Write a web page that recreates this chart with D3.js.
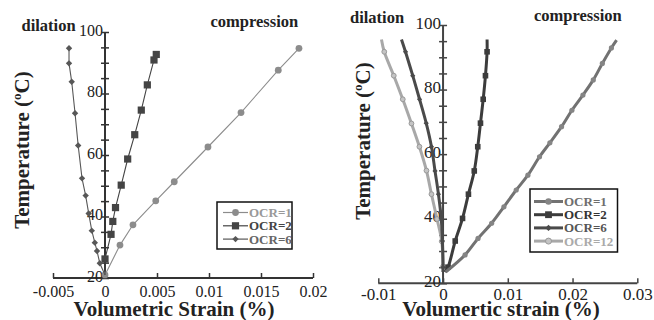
<!DOCTYPE html>
<html><head><meta charset="utf-8">
<script src="https://cdn.jsdelivr.net/npm/d3@7"></script>
<style>
html,body{margin:0;padding:0;background:#fff;}
svg{display:block;}
</style></head>
<body><svg id="chart" width="654" height="320"></svg>
<script>
// ---------- DATA ----------
// Left panel
const leftXTicks = [-0.005, 0, 0.005, 0.01, 0.015, 0.02];
const leftXTickLabels = ["-0.005", "0", "0.005", "0.01", "0.015", "0.02"];
const leftYTicks = [20, 25, 30, 35, 40, 45, 50, 55, 60, 65, 70, 75, 80, 85, 90, 95, 100];
const leftYTickLabels = ["20", "", "", "", "40", "", "", "", "60", "", "", "", "80", "", "", "", "100"];

const leftOCR1Strain = [0, 0.00144, 0.00269, 0.00488, 0.00666, 0.0099, 0.01308, 0.01666, 0.01865];
const leftOCR1Temp   = [21, 30.7, 37.3, 45.1, 51.3, 62.6, 73.8, 87.6, 94.7];
const leftOCR2Strain = [0, 0, 0.00058, 0.00075, 0.00101, 0.00156, 0.00218, 0.00286, 0.00349, 0.00407, 0.00471, 0.00493];
const leftOCR2Temp   = [21, 26.2, 34.2, 38.4, 42.9, 50.2, 58.7, 66.6, 74.6, 82.8, 90.9, 92.7];
const leftOCR6Strain = [0, -0.0005, -0.00077, -0.00098, -0.00127, -0.00157, -0.00186, -0.00221, -0.00258, -0.00288, -0.0032, -0.00346, -0.00346];
const leftOCR6Temp   = [21, 24.8, 28.8, 31.5, 35.4, 41.0, 46.8, 52.4, 63.1, 73.6, 83.8, 89.8, 94.7];
const leftSeriesNames = ["OCR=1", "OCR=2", "OCR=6"];

// Right panel
const rightXTicks = [-0.01, 0, 0.01, 0.02, 0.03];
const rightXTickLabels = ["-0.01", "0", "0.01", "0.02", "0.03"];
const rightYTicks = [20, 25, 30, 35, 40, 45, 50, 55, 60, 65, 70, 75, 80, 85, 90, 95, 100];
const rightYTickLabels = ["20", "", "", "", "40", "", "", "", "60", "", "", "", "80", "", "", "", "100"];

const rightOCR1Strain = [0.0004, 0.0034, 0.0054, 0.0075, 0.0094, 0.0113, 0.0131, 0.0149, 0.0165, 0.0183, 0.0199, 0.0216, 0.0232, 0.0246, 0.0260, 0.0268];
const rightOCR1Temp   = [23.5, 28.8, 33.9, 38.6, 43.7, 48.9, 53.5, 59.2, 63.5, 68.5, 73.6, 78.3, 83.0, 88.1, 92.9, 95.3];
const rightOCR2Strain = [0.0003, 0.00077, 0.00188, 0.00301, 0.00392, 0.00482, 0.00536, 0.00578, 0.0062, 0.00655, 0.0068, 0.0068];
const rightOCR2Temp   = [23.5, 25.0, 33.1, 40.1, 47.6, 54.8, 62.3, 69.6, 77.0, 84.3, 91.7, 95.5];
const rightOCR6Strain = [0, 0, -0.0001, -0.00028, -0.00071, -0.00124, -0.00179, -0.0026, -0.00363, -0.00468, -0.0058, -0.00642];
const rightOCR6Temp   = [23.5, 25.0, 33.1, 40.1, 47.6, 54.8, 62.3, 69.6, 77.0, 84.3, 91.7, 95.5];
const rightOCR12Strain = [0, 0, -0.0002, -0.00093, -0.00179, -0.00256, -0.00365, -0.00488, -0.00622, -0.00761, -0.00908, -0.00951];
const rightOCR12Temp   = [23.5, 25.2, 33.0, 39.9, 47.6, 54.9, 62.3, 69.5, 77.0, 84.3, 91.7, 95.5];
const rightSeriesNames = ["OCR=1", "OCR=2", "OCR=6", "OCR=12"];

// ---------- DRAWING ----------
const FONT = '"Liberation Serif"';
const svg = d3.select("#chart");
const zip = (xs, ys) => xs.map((x, i) => [x, ys[i]]);

function marker(g, shape, cx, cy, size, fill, stroke) {
  if (shape === "circle") {
    g.append("circle").attr("cx", cx).attr("cy", cy).attr("r", size)
      .attr("fill", fill).attr("stroke", stroke || "none").attr("stroke-width", 1);
  } else if (shape === "square") {
    g.append("rect").attr("x", cx - size).attr("y", cy - size).attr("width", size * 2).attr("height", size * 2)
      .attr("fill", fill);
  } else if (shape === "diamond") {
    g.append("path").attr("d", `M${cx},${cy - size}L${cx + size},${cy}L${cx},${cy + size}L${cx - size},${cy}Z`)
      .attr("fill", fill);
  }
}

function drawAxes(g, x, y, xTicks, xLabels, yTicks, yLabels, fs, axisColor, xLabelDy) {
  const [x0, x1] = x.range();
  const [yb, yt] = y.range();
  const yAx = x(0);
  g.append("line").attr("x1", x0).attr("x2", x1).attr("y1", yb).attr("y2", yb)
    .attr("stroke", axisColor).attr("stroke-width", 2);
  g.append("line").attr("x1", yAx).attr("x2", yAx).attr("y1", yb).attr("y2", yt)
    .attr("stroke", axisColor).attr("stroke-width", 2);
  const xa = d3.axisBottom(x).tickValues(xTicks).tickFormat((d, i) => xLabels[i]).tickSize(0).tickPadding(0);
  const xg = g.append("g").attr("transform", `translate(0,${yb})`).call(xa);
  xg.select(".domain").remove();
  xg.selectAll(".tick").append("line").attr("y1", -5).attr("y2", 0).attr("stroke", axisColor).attr("stroke-width", 1.5);
  xg.selectAll(".tick text").attr("font-size", fs).attr("fill", "#222")
    .style("font-family", FONT).attr("dy", null).attr("y", xLabelDy);
  const ya = d3.axisLeft(y).tickValues(yTicks).tickFormat((d, i) => yLabels[i]).tickSize(0).tickPadding(0);
  const yg = g.append("g").attr("transform", `translate(${yAx},0)`).call(ya);
  yg.select(".domain").remove();
  yg.selectAll(".tick").append("line").attr("x1", -4).attr("x2", 4).attr("stroke", axisColor).attr("stroke-width", 1.5);
  yg.selectAll(".tick text").attr("font-size", fs).attr("fill", "#222")
    .style("font-family", FONT).attr("x", -2).attr("dy", null).attr("y", 3);
}

function txt(g, x, y, s, size, bold, anchor) {
  return g.append("text").attr("x", x).attr("y", y).attr("font-size", size)
    .attr("font-weight", bold ? "bold" : "normal").attr("fill", "#222")
    .attr("text-anchor", anchor || "start").style("font-family", FONT).text(s);
}

function yTitle(xPos, yCenter) {
  const t = svg.append("text").attr("transform", `translate(${xPos},${yCenter}) rotate(-90)`)
    .attr("text-anchor", "middle").attr("font-size", 21).attr("font-weight", "bold").attr("fill", "#222")
    .style("font-family", FONT);
  t.append("tspan").text("Temperature (");
  t.append("tspan").text("o").attr("font-size", 13).attr("dy", -8);
  t.append("tspan").text("C)").attr("dy", 8);
}

// ===== LEFT PANEL =====
{
  const x = d3.scaleLinear([-0.005, 0.02], [53, 313]);
  const y = d3.scaleLinear([20, 100], [278, 32]);
  const g = svg.append("g");
  drawAxes(g, x, y, leftXTicks, leftXTickLabels, leftYTicks, leftYTickLabels, 16, "#333", 18.5);

  const series = [
    { name: leftSeriesNames[0], pts: zip(leftOCR1Strain, leftOCR1Temp), color: "#8c8c8c", shape: "circle", size: 3.4, start: 0 },
    { name: leftSeriesNames[1], pts: zip(leftOCR2Strain, leftOCR2Temp), color: "#444444", shape: "square", size: 3.6, start: 1 },
    { name: leftSeriesNames[2], pts: zip(leftOCR6Strain, leftOCR6Temp), color: "#575757", shape: "diamond", size: 3.2, start: 1 }
  ];
  const line = d3.line().x(d => x(d[0])).y(d => y(d[1]));
  series.forEach(s => {
    g.append("path").attr("d", line(s.pts)).attr("fill", "none").attr("stroke", s.color).attr("stroke-width", 1.1);
    s.pts.forEach((p, i) => { if (i >= s.start) marker(g, s.shape, x(p[0]), y(p[1]), s.size, s.color); });
  });

  txt(g, 21.5, 30.5, "dilation", 16.5, true);
  txt(g, 210.5, 26.5, "compression", 16.5, true);
  txt(g, 174, 316, "Volumetric Strain (%)", 21, true, "middle");

  const lg = g.append("g");
  lg.append("rect").attr("x", 217).attr("y", 202).attr("width", 75).attr("height", 47)
    .attr("fill", "#fff").attr("stroke", "#111").attr("stroke-width", 1.5);
  const textCols = ["#999999", "#444444", "#666666"];
  series.forEach((s, i) => {
    const ly = 212.5 + i * 13.3;
    lg.append("line").attr("x1", 223).attr("x2", 248).attr("y1", ly).attr("y2", ly).attr("stroke", s.color).attr("stroke-width", 1.2);
    marker(lg, s.shape, 235.5, ly, s.size, s.color);
    txt(lg, 249, ly + 4.5, s.name, 13, true).attr("fill", textCols[i]);
  });
}
yTitle(29, 150);

// ===== RIGHT PANEL =====
{
  const x = d3.scaleLinear([-0.01, 0.03], [378.3, 637.3]);
  const y = d3.scaleLinear([20, 100], [283.3, 25]);
  const g = svg.append("g");
  drawAxes(g, x, y, rightXTicks, rightXTickLabels, rightYTicks, rightYTickLabels, 17, "#444", 17);

  const series = [
    { name: rightSeriesNames[0], pts: zip(rightOCR1Strain, rightOCR1Temp), color: "#727272", mfill: "#858585", mstroke: null, shape: "circle", size: 2.6 },
    { name: rightSeriesNames[1], pts: zip(rightOCR2Strain, rightOCR2Temp), color: "#3c3c3c", mfill: "#3c3c3c", mstroke: null, shape: "square", size: 2.8 },
    { name: rightSeriesNames[2], pts: zip(rightOCR6Strain, rightOCR6Temp), color: "#4a4a4a", mfill: "#4a4a4a", mstroke: null, shape: "diamond", size: 2.6 },
    { name: rightSeriesNames[3], pts: zip(rightOCR12Strain, rightOCR12Temp), color: "#a8a8a8", mfill: "#c4c4c4", mstroke: "#999999", shape: "circle", size: 2.4 }
  ];
  const line = d3.line().x(d => x(d[0])).y(d => y(d[1])).curve(d3.curveCatmullRom);
  series.slice().reverse().forEach(s => {
    g.append("path").attr("d", line(s.pts)).attr("fill", "none").attr("stroke", s.color).attr("stroke-width", 3);
    s.pts.forEach((p, i) => { if (i > 0 && i < s.pts.length - 1) marker(g, s.shape, x(p[0]), y(p[1]), s.size, s.mfill, s.mstroke); });
  });

  txt(g, 350, 23.3, "dilation", 16.5, true);
  txt(g, 534, 20.7, "compression", 16.5, true);
  txt(g, 501, 316, "Volumertic strain (%)", 21, true, "middle");

  const lg = g.append("g");
  lg.append("rect").attr("x", 530).attr("y", 189).attr("width", 87.5).attr("height", 63)
    .attr("fill", "#fff").attr("stroke", "#111").attr("stroke-width", 1.5);
  const textCols = ["#6e6e6e", "#333333", "#555555", "#aaaaaa"];
  series.forEach((s, i) => {
    const ly = 201.5 + i * 13.2;
    lg.append("line").attr("x1", 534).attr("x2", 563).attr("y1", ly).attr("y2", ly).attr("stroke", s.color).attr("stroke-width", 3);
    marker(lg, s.shape, 548.5, ly, s.size + 0.6, s.mfill, s.mstroke);
    txt(lg, 564, ly + 4.5, s.name, 13, true).attr("fill", textCols[i]);
  });
}
yTitle(370, 141);
</script></body></html>
